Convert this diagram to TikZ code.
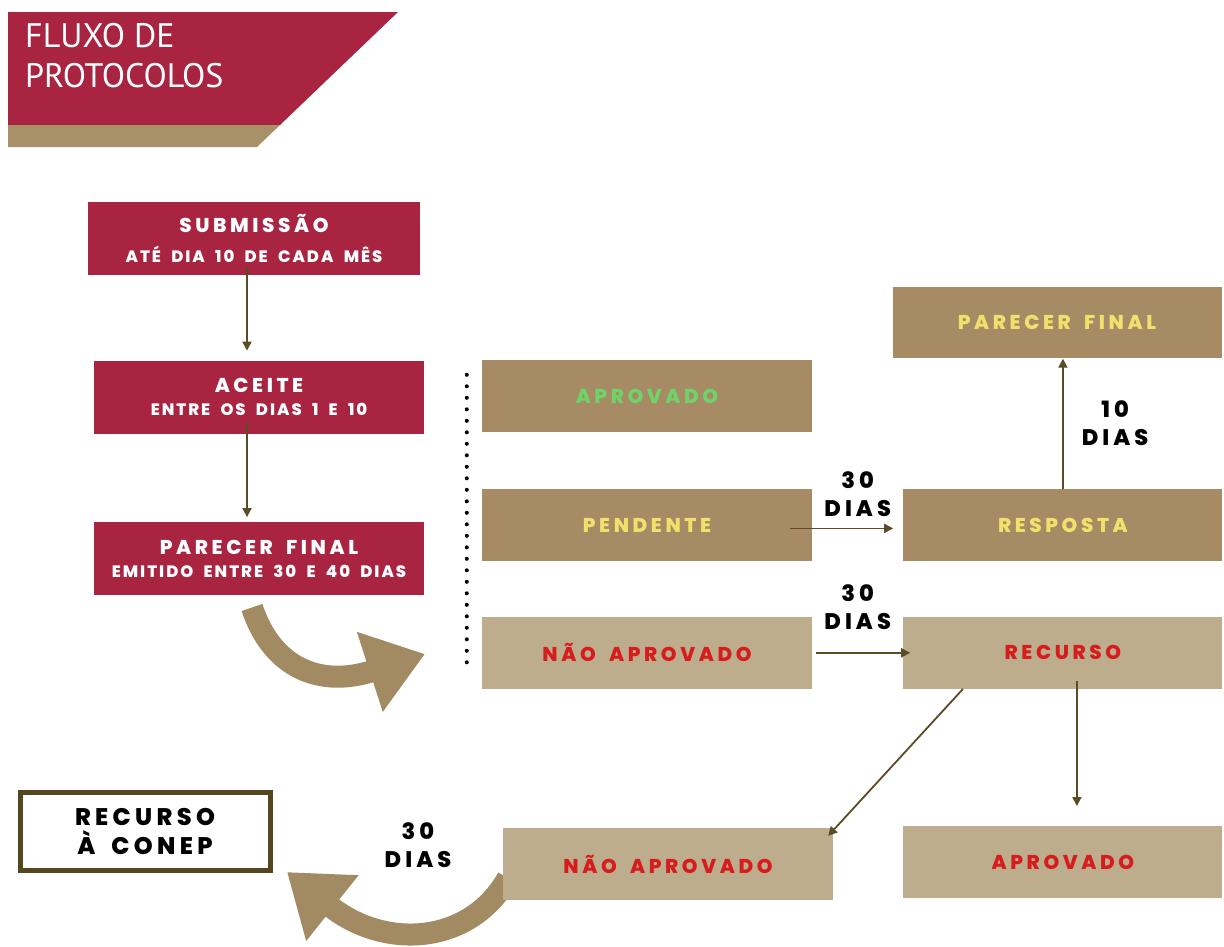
\documentclass[tikz,border=0pt]{standalone}
\usepackage{fontspec}
\setmainfont{Poppins}
\newfontfamily\titlefont{PT Sans}
\newfontfamily\widefont{Poppins ExtraBold}[LetterSpace=18,WordSpace=1.8]
\newfontfamily\subwidefont{Poppins ExtraBold}[LetterSpace=12,WordSpace=2]
\usetikzlibrary{arrows.meta,positioning}

\definecolor{crimson}{HTML}{A82441}
\definecolor{darktan}{HTML}{A68B64}
\definecolor{paletan}{HTML}{BEAD8C}
\definecolor{stripetan}{HTML}{A89068}
\definecolor{arrowtan}{HTML}{A28A62}
\definecolor{arrowolive}{HTML}{5A4C26}
\definecolor{conepline}{HTML}{54461F}
\definecolor{okgreen}{HTML}{6FD36A}
\definecolor{waityellow}{HTML}{F3E06C}
\definecolor{nored}{HTML}{D61C1C}

\newcommand{\headfont}{\widefont\fontsize{20}{24}\selectfont}
\newcommand{\subfont}{\subwidefont\fontsize{16.5}{20}\selectfont}
\newcommand{\daysfont}{\widefont\fontsize{22.5}{28}\selectfont}

\pgfdeclarelayer{bg}
\pgfsetlayers{bg,main}

\begin{document}
\begin{tikzpicture}[
    x=1pt,y=-1pt,
    redbox/.style={rectangle,fill=crimson,text=white,minimum width=330pt,minimum height=73pt,align=center,inner sep=0pt,font=\subfont},
    tanbox/.style={rectangle,fill=darktan,minimum width=330pt,minimum height=72pt,inner sep=0pt,font=\headfont},
    palebox/.style={tanbox,fill=paletan},
    arrow/.style={-{Triangle[length=9pt,width=9pt]},line width=1.8pt,draw=arrowolive},
    bigarrow/.style={-{Triangle[length=58pt,width=80pt]},line width=22pt,draw=arrowtan},
    days/.style={font=\daysfont,align=center,inner sep=2pt}
]
\useasboundingbox (0,0) rectangle (1224,946);

% Title banner
\fill[crimson] (8,12) -- (398,12) -- (280,125) -- (8,125) -- cycle;
\fill[stripetan] (8,125) -- (280,125) -- (257,147) -- (8,147) -- cycle;
\node[anchor=north west,inner sep=0pt,align=left,text=white,font=\titlefont\fontsize{34}{40}\selectfont] (title) at (25,23) {FLUXO DE\\PROTOCOLOS};

% Main steps
\node[redbox,minimum width=332pt] (sub) at (254,238) {{\headfont SUBMISSÃO}\\[10pt]ATÉ DIA 10 DE CADA MÊS};
\node[redbox,below=86pt of sub,xshift=5pt] (aceite) {{\headfont ACEITE}\\[3pt]ENTRE OS DIAS 1 E 10};
\node[redbox,below=88pt of aceite] (parecer) {{\headfont PARECER FINAL}\\[3pt]EMITIDO ENTRE 30 E 40 DIAS};

% Outcomes
\node[tanbox,text=okgreen] (apr) at (647,396) {APROVADO};
\node[tanbox,text=waityellow,below=57pt of apr] (pend) {PENDENTE};
\node[palebox,text=nored,below=55pt of pend] (nao) {NÃO APROVADO};
\node[tanbox,text=waityellow,minimum width=319pt,right=91pt of pend] (resp) {RESPOSTA};
\node[palebox,text=nored,minimum width=319pt,right=91pt of nao] (recurso) {RECURSO};
\node[tanbox,text=waityellow,minimum width=329pt,minimum height=71pt] (pfinal) at (1057,322) {PARECER FINAL};
\node[palebox,text=nored,minimum width=319pt,below=137pt of recurso] (apr2) {APROVADO};
\node[palebox,text=nored] (nao2) at (668,864) {NÃO APROVADO};
\node[rectangle,draw=conepline,line width=5pt,fill=white,minimum width=250pt,minimum height=78pt,align=center,font=\widefont\fontsize{24}{29}\selectfont] (conep) at (145,831) {RECURSO\\À CONEP};

% Connectors
\draw[arrow,shorten <=-8pt,shorten >=10pt] ([xshift=-7pt]sub.south) -- ([xshift=-7pt]sub.south |- aceite.north);
\draw[arrow,shorten <=-12pt,shorten >=5pt] ([xshift=-12pt]aceite.south) -- ([xshift=-12pt]aceite.south |- parecer.north);
\draw[arrow,shorten <=-22pt,shorten >=10pt] ([yshift=-3pt]pend.east) -- node[days,above=9pt] (d1) {30\\DIAS} ([yshift=-3pt]resp.west);
\draw[arrow,shorten >=1pt] (resp.north) -- node[days,right=16pt] (d2) {10\\DIAS} (resp.north |- pfinal.south);
\draw[arrow,shorten <=4pt,shorten >=-7pt] (nao.east) -- node[days,above=20pt] (d3) {30\\DIAS} (recurso.west);
\draw[arrow] ([xshift=-100pt]recurso.south) -- ([xshift=-5pt,yshift=-8pt]nao2.north east);
\draw[arrow,shorten <=-8pt,shorten >=20pt] ([xshift=14pt]recurso.south) -- ([xshift=14pt]recurso.south |- apr2.north);

% Dotted divider
\draw[line width=4pt,line cap=round,dash pattern=on 0pt off 11.5pt] ([xshift=-15pt,yshift=-15pt]apr.north west) -- ([xshift=-15pt,yshift=24pt]nao.south west);

% Big curved arrows
\coordinate (tipa) at (425,654);
\coordinate (tipb) at (287,872);
\node[days] (d4) at (418,845) {30\\DIAS};
\begin{pgfonlayer}{bg}
\draw[bigarrow] ([xshift=-7pt,yshift=-12pt]parecer.south) .. controls (272,668) and (320,688) .. (tipa);
\draw[bigarrow] ([xshift=5pt,yshift=-14pt]nao2.west) .. controls (470,945) and (385,950) .. (tipb);
\end{pgfonlayer}

\end{tikzpicture}
\end{document}
